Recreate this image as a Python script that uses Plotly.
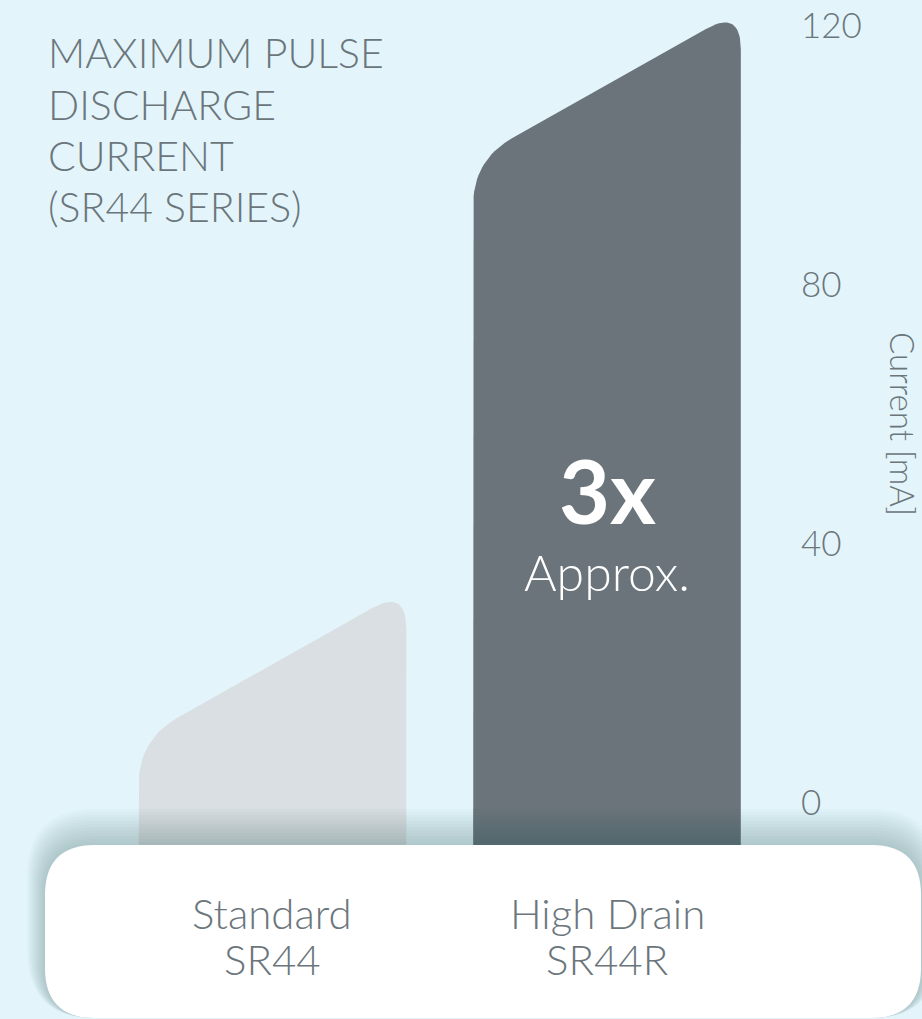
import numpy as np
import plotly.graph_objects as go

# ---- data -------------------------------------------------------------
categories = ["Standard", "High Drain"]
models = ["SR44", "SR44R"]
current_ma = [33.0, 122.5]          # maximum pulse discharge current, mA
bar_colors = ["#d9dfe2", "#6a747a"]
y_ticks = [0, 40, 80, 120]
ratio_text = "3x"
ratio_note = "Approx."
title_lines = ["MAXIMUM PULSE", "DISCHARGE", "CURRENT", "(SR44 SERIES)"]
y_title = "Current [mA]"

# ---- layout geometry ----------------------------------------------------
W, H = 922, 1019
MR = 124                        # right margin keeps room for tick labels
PLOT_W = W - MR
X_RANGE = [-0.8146, 1.5710]
Y_RANGE = [-33.44, 123.94]
PX_X = PLOT_W / (X_RANGE[1] - X_RANGE[0])
PX_Y = H / (Y_RANGE[1] - Y_RANGE[0])

BG = "#e3f5fa"
TEXT = "#6b767c"
FONT = "Lato"

BAR_W = 0.8          # bar width in category units
BAR_BASE = -8.0      # bars run down behind the label card
SLANT = 23.3         # drop of the sloped bar top, mA
R_LEFT = 45          # corner rounding, px
R_RIGHT = 40


def qbez(p0, c, p1, n=20):
    t = np.linspace(0, 1, n)[:, None]
    return (1 - t) ** 2 * p0 + 2 * (1 - t) * t * c + t ** 2 * p1


def bar_outline(xc, value, base):
    """Outline of a bar with a sloped, rounded top (data units)."""
    # work in screen-proportional units so the corner curves stay round
    x0 = (xc - BAR_W / 2) * PX_X
    x1 = (xc + BAR_W / 2) * PX_X
    yb = base * PX_Y
    tl = np.array([x0, (value - SLANT) * PX_Y])
    tr = np.array([x1, value * PX_Y])
    u = (tr - tl) / np.linalg.norm(tr - tl)
    left = qbez(tl + np.array([0, -R_LEFT]), tl, tl + u * R_LEFT)
    right = qbez(tr - u * R_RIGHT, tr, tr + np.array([0, -R_RIGHT]))
    pts = np.vstack([[[x0, yb]], left, right, [[x1, yb]], [[x0, yb]]])
    return pts[:, 0] / PX_X, pts[:, 1] / PX_Y


def px_to_paper(x, y):
    return x / PLOT_W, 1 - y / H


def rounded_rect(x0, y0, x1, y1, r):
    """SVG path (paper coords) of a rounded rectangle given in pixels."""
    def p(x, y):
        a, b = px_to_paper(x, y)
        return f"{a:.5f},{b:.5f}"
    return (f"M{p(x0 + r, y0)} L{p(x1 - r, y0)} Q{p(x1, y0)} {p(x1, y0 + r)} "
            f"L{p(x1, y1 - r)} Q{p(x1, y1)} {p(x1 - r, y1)} "
            f"L{p(x0 + r, y1)} Q{p(x0, y1)} {p(x0, y1 - r)} "
            f"L{p(x0, y0 + r)} Q{p(x0, y0)} {p(x0 + r, y0)} Z")


fig = go.Figure()

for i, (cat, val, col) in enumerate(zip(categories, current_ma, bar_colors)):
    xs, ys = bar_outline(i, val, BAR_BASE)
    fig.add_trace(go.Scatter(
        x=xs, y=ys, mode="lines", fill="toself", fillcolor=col,
        line=dict(width=0, color=col), name=cat, hoverinfo="name",
        showlegend=False))

# label card at the bottom with a soft shadow
BOX = (45, 845, 921, 1018)
shapes = []
for k in range(12, 0, -1):
    e = 3 * k
    shapes.append(dict(
        type="path", xref="paper", yref="paper", layer="above",
        path=rounded_rect(BOX[0] - 0.5 * e, BOX[1] - e, BOX[2] + 0.5 * e,
                          BOX[3], 50 + 0.5 * e),
        fillcolor="rgba(40,70,80,0.022)", line=dict(width=0)))
shapes.append(dict(
    type="path", xref="paper", yref="paper", layer="above",
    path=rounded_rect(*BOX, 50), fillcolor="white", line=dict(width=0)))

annotations = []
# heading, one line per annotation so the line pitch can be set exactly
for j, line in enumerate(title_lines):
    tx, ty = px_to_paper(46, 53 + 51 * j)
    annotations.append(dict(
        text=line, xref="paper", yref="paper", x=tx, y=ty,
        xanchor="left", yanchor="middle", align="left", showarrow=False,
        font=dict(family=FONT, size=41, color=TEXT, weight=300)))

for i, (cat, mdl) in enumerate(zip(categories, models)):
    for text, cy_px in ((cat, 913), (mdl, 959)):
        _, cy = px_to_paper(0, cy_px)
        annotations.append(dict(
            text=text, xref="x", yref="paper", x=i, y=cy,
            xanchor="center", yanchor="middle", showarrow=False,
            font=dict(family=FONT, size=42, color=TEXT, weight=300)))

annotations.append(dict(
    text=f"<b>{ratio_text}</b>", xref="x", yref="y", x=1, y=48.2,
    xanchor="center", yanchor="middle", showarrow=False,
    font=dict(family=FONT, size=88, color="white")))
annotations.append(dict(
    text=ratio_note, xref="x", yref="y", x=1, y=35.6,
    xanchor="center", yanchor="middle", showarrow=False,
    font=dict(family=FONT, size=50, color="white", weight=300)))

vx, vy = px_to_paper(903, 424)
annotations.append(dict(
    text=y_title, xref="paper", yref="paper", x=vx, y=vy, textangle=90,
    xanchor="center", yanchor="middle", showarrow=False,
    font=dict(family=FONT, size=33, color=TEXT, weight=300)))

fig.update_layout(
    width=W, height=H, margin=dict(l=0, r=MR, t=0, b=0),
    paper_bgcolor=BG, plot_bgcolor=BG,
    shapes=shapes, annotations=annotations, showlegend=False,
    xaxis=dict(range=X_RANGE, visible=False, fixedrange=True),
    yaxis=dict(range=Y_RANGE, side="right", tickvals=y_ticks,
               ticktext=[str(v) for v in y_ticks], showgrid=False,
               zeroline=False, showline=False, ticks="",
               ticklabelstandoff=2,
               tickfont=dict(family=FONT, size=35, color=TEXT, weight=300),
               fixedrange=True),
)

fig.write_html("out.html")
